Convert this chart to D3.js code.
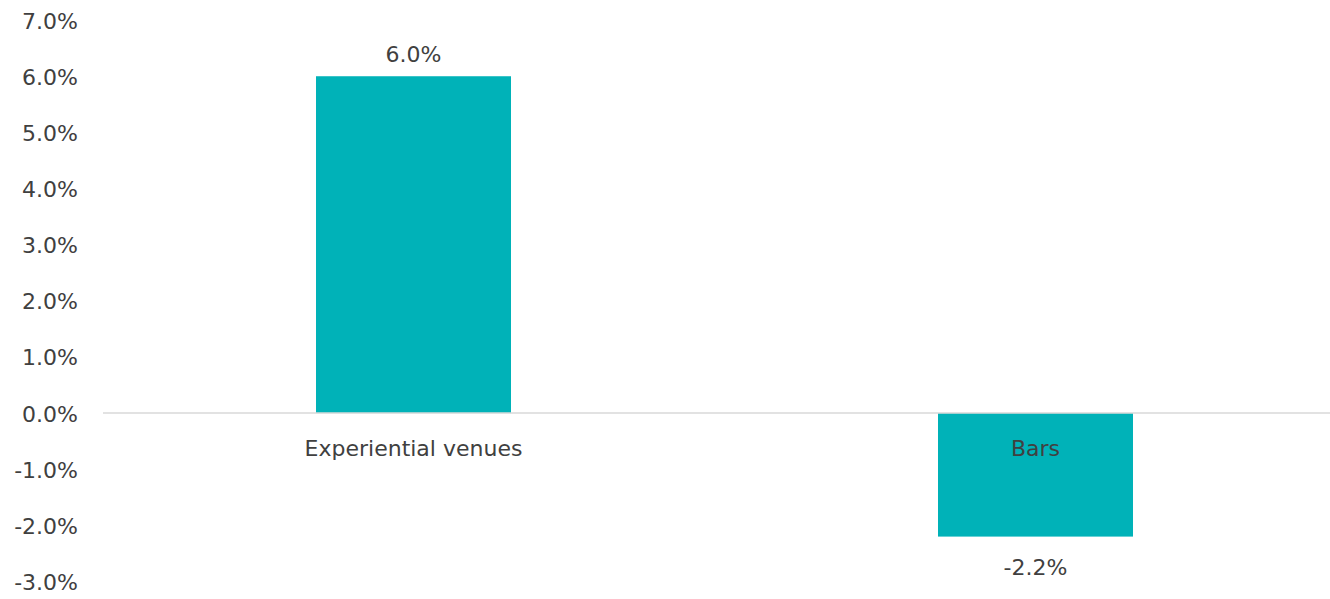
<!DOCTYPE html>
<html>
<head>
<meta charset="utf-8">
<script src="https://cdn.jsdelivr.net/npm/d3@7"></script>
<style>
  html, body { margin: 0; padding: 0; background: #fff; }
  svg text { font-family: "DejaVu Sans", sans-serif; fill: #404040; }
</style>
</head>
<body>
<svg id="chart" width="1330" height="599"></svg>
<script>
// Year-on-year change by venue type
const categories = ["Experiential venues", "Bars"];
const values = [0.060, -0.022];
const yTicks = [-0.03, -0.02, -0.01, 0, 0.01, 0.02, 0.03, 0.04, 0.05, 0.06, 0.07];

const svg = d3.select("#chart");
// percentage format with a plain hyphen for negatives
const locale = d3.formatLocale({ decimal: ".", thousands: ",", grouping: [3], currency: ["", ""], minus: "-" });
const fmt = locale.format(".1%");
const FONT = 22;

const plotLeft = 102.5, plotRight = 1346.5;
const x = d3.scaleBand()
  .domain(categories)
  .range([plotLeft, plotRight])
  .paddingInner(0.6865)
  .paddingOuter(0.34325);

const y = d3.scaleLinear()
  .domain([-0.03, 0.07])
  .range([581.5, 20.1]);

// y axis labels only (no axis line, no tick marks)
const yAxis = d3.axisLeft(y).tickValues(yTicks).tickFormat(fmt).tickSize(0).tickPadding(0);
const gy = svg.append("g").attr("transform", "translate(78,0)").call(yAxis);
gy.select(".domain").remove();
gy.selectAll("text")
  .attr("font-size", FONT)
  .attr("dy", "0.36em")
  .style("font-family", "'DejaVu Sans', sans-serif")
  .style("fill", "#404040");

// bars
svg.append("g").selectAll("rect")
  .data(values)
  .join("rect")
  .attr("x", (d, i) => x(categories[i]))
  .attr("width", x.bandwidth())
  .attr("y", d => y(Math.max(0, d)))
  .attr("height", d => Math.abs(y(d) - y(0)))
  .attr("fill", "#00B2B8");

// zero baseline
svg.append("line")
  .attr("x1", 103).attr("x2", 1330)
  .attr("y1", y(0)).attr("y2", y(0))
  .attr("stroke", "#d9d9d9").attr("stroke-width", 1.5);

// category labels below the baseline
svg.append("g").selectAll("text")
  .data(categories)
  .join("text")
  .attr("x", d => x(d) + x.bandwidth() / 2)
  .attr("y", y(0) + 43)
  .attr("text-anchor", "middle")
  .attr("font-size", FONT)
  .text(d => d);

// value labels
svg.append("g").selectAll("text")
  .data(values)
  .join("text")
  .attr("x", (d, i) => x(categories[i]) + x.bandwidth() / 2)
  .attr("y", d => d >= 0 ? y(d) - 14 : y(d) + 38)
  .attr("text-anchor", "middle")
  .attr("font-size", FONT)
  .text(d => fmt(d));
</script>
</body>
</html>
